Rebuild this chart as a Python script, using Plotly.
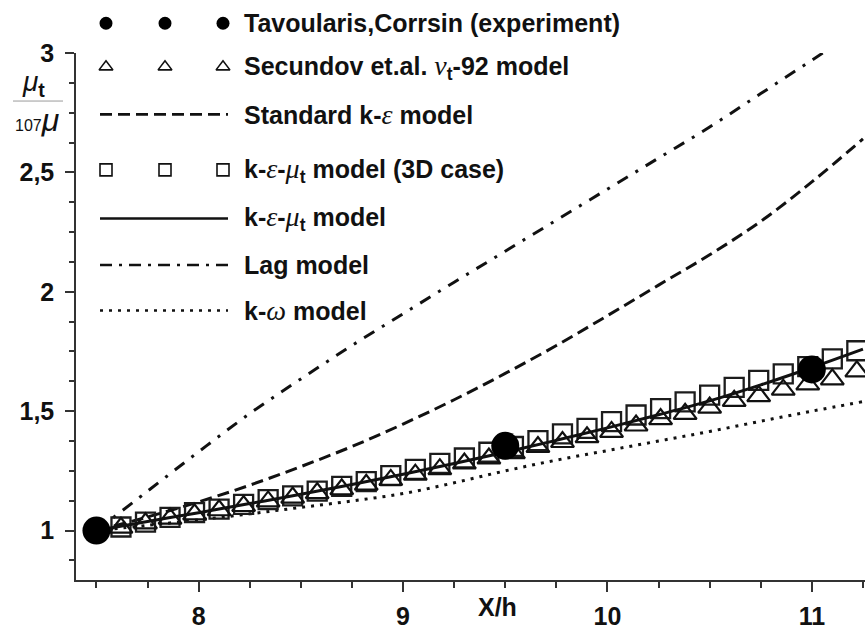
import plotly.graph_objects as go

# ---------------- data ----------------
# Tavoularis & Corrsin experiment
exp_x = [7.5, 9.5, 11.0]
exp_y = [1.0, 1.355, 1.675]

# stations of the 3D k-eps-mu_t computation and of the Secundov nu_t-92 model
station_x = [7.62, 7.74, 7.86, 7.98, 8.10, 8.22, 8.34, 8.46, 8.58, 8.70,
             8.82, 8.94, 9.06, 9.18, 9.30, 9.42, 9.54, 9.66, 9.78, 9.90,
             10.02, 10.14, 10.26, 10.38, 10.50, 10.62, 10.74, 10.86, 10.98,
             11.10, 11.22]
ke3d_y = [1.015, 1.035, 1.055, 1.075, 1.090, 1.110, 1.130, 1.145, 1.165, 1.185,
          1.205, 1.230, 1.256, 1.281, 1.304, 1.328, 1.352, 1.377, 1.405, 1.428,
          1.456, 1.484, 1.511, 1.539, 1.567, 1.600, 1.629, 1.656, 1.687,
          1.719, 1.753]
secundov_y = [1.012, 1.030, 1.050, 1.068, 1.085, 1.103, 1.122, 1.138, 1.157, 1.173,
              1.192, 1.212, 1.234, 1.257, 1.281, 1.302, 1.324, 1.350, 1.371, 1.391,
              1.413, 1.440, 1.467, 1.489, 1.515, 1.543, 1.563, 1.590, 1.612,
              1.633, 1.667]

# continuous model curves
curve_x = [7.5, 7.75, 8.0, 8.25, 8.5, 8.75, 9.0, 9.25, 9.5, 9.75,
           10.0, 10.25, 10.5, 10.75, 11.0, 11.25]
ke_mut_y = [1.0, 1.038, 1.075, 1.113, 1.152, 1.193, 1.236, 1.281, 1.328, 1.378,
            1.430, 1.485, 1.543, 1.610, 1.683, 1.760]
std_ke_y = [1.0, 1.057, 1.120, 1.190, 1.268, 1.352, 1.446, 1.548, 1.658, 1.775,
            1.900, 2.028, 2.155, 2.295, 2.460, 2.640]
lag_y = [1.0, 1.165, 1.330, 1.490, 1.635, 1.775, 1.908, 2.040, 2.170, 2.300,
         2.430, 2.560, 2.690, 2.830, 2.970, 3.110]
kw_y = [1.0, 1.022, 1.045, 1.070, 1.097, 1.124, 1.155, 1.200, 1.250, 1.295,
        1.335, 1.375, 1.415, 1.458, 1.500, 1.540]

x_ticks = [8, 9, 10, 11]
x_ticktext = ["8", "9", "10", "11"]
y_ticks = [1, 1.5, 2, 2.5, 3]
y_ticktext = ["1", "1,5", "2", "2,5", "3"]

GR = ("<span style=\"font-family:'Liberation Serif';font-weight:normal;"
      "font-style:italic;font-size:28px\">{}</span>")
legend_labels = [
    "Tavoularis,Corrsin (experiment)",
    "Secundov et.al. " + GR.format("ν") + "<sub>t</sub>-92 model",
    "Standard k-" + GR.format("ε") + " model",
    "k-" + GR.format("ε") + "-" + GR.format("μ") + "<sub>t</sub> model (3D case)",
    "k-" + GR.format("ε") + "-" + GR.format("μ") + "<sub>t</sub> model",
    "Lag model",
    "k-" + GR.format("ω") + " model",
]

# ---------------- page geometry (pixels) ----------------
W, H = 865, 630
ML, MR, MT, MB = 76, 0, 53, 45
PW, PH = W - ML - MR, H - MT - MB


def fx(px):
    return (px - ML) / PW


def fy(py):
    return (H - MB - py) / PH


FONT = "Liberation Sans, Arial, sans-serif"
INK = "#111111"

fig = go.Figure()

# model curves
fig.add_trace(go.Scatter(x=curve_x, y=std_ke_y, mode="lines", line_shape="spline",
                         line=dict(color=INK, width=3, dash="12px,6px")))
fig.add_trace(go.Scatter(x=curve_x, y=lag_y, mode="lines", line_shape="spline",
                         line=dict(color=INK, width=3, dash="12px,9px,3px,9px")))
fig.add_trace(go.Scatter(x=curve_x, y=kw_y, mode="lines", line_shape="spline",
                         line=dict(color=INK, width=3, dash="3px,6px")))
fig.add_trace(go.Scatter(x=station_x, y=ke3d_y, mode="markers",
                         marker=dict(symbol="square-open", size=19, color="#1c1c1c",
                                     line=dict(width=2.3, color="#1c1c1c"))))
fig.add_trace(go.Scatter(x=station_x, y=secundov_y, mode="markers",
                         marker=dict(symbol="triangle-up-open", size=20, color=INK,
                                     line=dict(width=2.2, color=INK))))
fig.add_trace(go.Scatter(x=curve_x, y=ke_mut_y, mode="lines", line_shape="spline",
                         line=dict(color=INK, width=3)))
fig.add_trace(go.Scatter(x=exp_x, y=exp_y, mode="markers",
                         marker=dict(symbol="circle", size=28, color="black")))

# ---------------- legend block ----------------
row_py = [23, 67, 115, 171, 220, 267, 313]
sym_px = [106, 165, 223]
line_px = [100, 228]
text_px = 242

shapes = []
# filled circles of the experiment row sit above the plotting area: draw them as shapes
for p in sym_px:
    shapes.append(dict(type="circle", xref="paper", yref="paper",
                       x0=fx(p - 6.5), x1=fx(p + 6.5),
                       y0=fy(row_py[0] + 6.5), y1=fy(row_py[0] - 6.5),
                       fillcolor="black", line=dict(width=0)))

marker_rows = [
    (1, dict(symbol="triangle-up-open", size=12, color=INK, line=dict(width=1.6, color=INK))),
    (3, dict(symbol="square-open", size=12, color=INK, line=dict(width=1.6, color=INK))),
]
for r, mk in marker_rows:
    fig.add_trace(go.Scatter(x=[fx(p) for p in sym_px], y=[fy(row_py[r])] * 3,
                             mode="markers", marker=mk, cliponaxis=False,
                             xaxis="x2", yaxis="y2"))

line_rows = [
    (2, dict(color=INK, width=2.6, dash="12px,6px")),
    (4, dict(color=INK, width=2.6)),
    (5, dict(color=INK, width=2.6, dash="12px,7px,3px,7px")),
    (6, dict(color=INK, width=2.6, dash="3px,6px")),
]
for r, ln in line_rows:
    fig.add_trace(go.Scatter(x=[fx(p) for p in line_px], y=[fy(row_py[r])] * 2,
                             mode="lines", line=ln, cliponaxis=False,
                             xaxis="x2", yaxis="y2"))

annotations = []
for r, label in enumerate(legend_labels):
    annotations.append(dict(x=fx(text_px), y=fy(row_py[r]), xref="paper", yref="paper",
                            text=label, showarrow=False, xanchor="left", yanchor="middle",
                            font=dict(family=FONT, size=25, color=INK, weight="bold")))

# axis title on the x axis, between 9 and 10
annotations.append(dict(x=9.46, y=fy(612), xref="x", yref="paper", text="X/h",
                        showarrow=False, xanchor="center", yanchor="middle",
                        font=dict(family=FONT, size=25, color=INK, weight="bold")))

# y axis title: mu_t / (107 mu)
annotations.append(dict(x=fx(33), y=fy(84), xref="paper", yref="paper",
                        text="<i>μ</i><sub><b>t</b></sub>", showarrow=False,
                        xanchor="center", yanchor="middle",
                        font=dict(family="Liberation Sans, sans-serif", size=28, color=INK)))
annotations.append(dict(x=fx(37), y=fy(121), xref="paper", yref="paper",
                        text="<span style='font-size:16px'>107</span><i>μ</i>", showarrow=False,
                        xanchor="center", yanchor="middle",
                        font=dict(family="Liberation Sans, sans-serif", size=32, color=INK)))

shapes.append(dict(type="line", xref="paper", yref="paper",
                   x0=fx(13), x1=fx(63), y0=fy(101.5), y1=fy(101.5),
                   line=dict(color="#9a9a9a", width=1)))

axis_common = dict(showgrid=False, zeroline=False, showline=True,
                   linecolor="#333333", linewidth=1.5,
                   ticks="outside", tickcolor="#333333", tickwidth=1.5,
                   tickfont=dict(family=FONT, size=25, color=INK, weight="bold"))

fig.update_layout(
    width=W, height=H,
    margin=dict(l=ML, r=MR, t=MT, b=MB, pad=0),
    paper_bgcolor="white", plot_bgcolor="white",
    showlegend=False,
    xaxis=dict(range=[7.4, 11.26], tickmode="array", tickvals=x_ticks, ticktext=x_ticktext,
               ticklen=10, ticklabelstandoff=3,
               minor=dict(tickmode="linear", tick0=7.5, dtick=0.25, ticks="outside",
                          ticklen=6, tickwidth=1.5, tickcolor="#333333"),
               **axis_common),
    yaxis=dict(range=[0.793, 3.0], tickmode="array", tickvals=y_ticks, ticktext=y_ticktext,
               ticklen=9, ticklabelstandoff=6,
               minor=dict(tickmode="linear", tick0=0, dtick=0.125, ticks="outside",
                          ticklen=5, tickwidth=1.5, tickcolor="#333333"),
               **axis_common),
    xaxis2=dict(overlaying="x", range=[0, 1], visible=False),
    yaxis2=dict(overlaying="y", range=[0, 1], visible=False),
    annotations=annotations,
    shapes=shapes,
)

fig.write_html("out.html")
